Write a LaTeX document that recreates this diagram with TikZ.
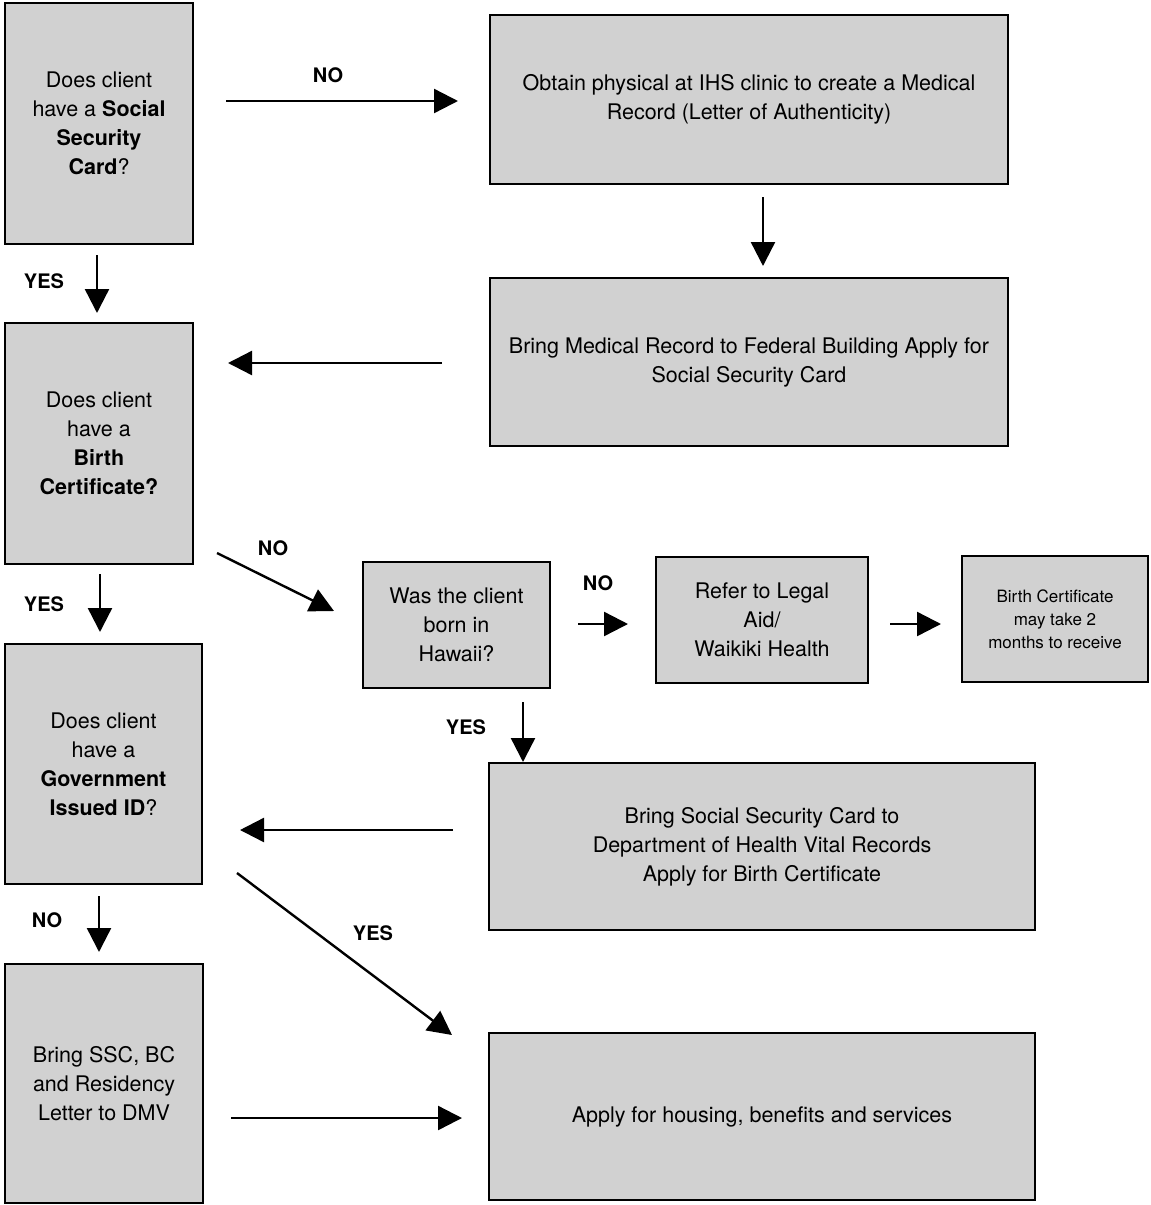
\documentclass[tikz,border=0pt]{standalone}
\usepackage{fontspec}
\setmainfont{TeX Gyre Heros}
\usetikzlibrary{arrows.meta}
\begin{document}
\begin{tikzpicture}[x=1pt,y=-1pt,
  box/.style={draw=black, line width=1.6pt, fill=black!18, inner sep=0pt,
    align=center, font=\fontsize{21.5}{29}\selectfont},
  note/.style={box, font=\fontsize{17}{23}\selectfont},
  flow/.style={line width=2.4pt, -{Triangle[length=24pt,width=24pt]}},
  tag/.style={font=\bfseries\fontsize{20}{24}\selectfont}]
\useasboundingbox (0,0) rectangle (1151,1205);

% decision column on the left
\node[box, minimum width=188, minimum height=241] (ssc) at (99,123.5)
  {Does client\\ have a \textbf{Social}\\ \textbf{Security}\\ \textbf{Card}?};
\node[box, minimum width=188, minimum height=241] (bc) at (99,443.5)
  {Does client\\ have a\\ \textbf{Birth}\\ \textbf{Certificate?}};
\node[box, minimum width=197, minimum height=240] (gov) at (103.5,764)
  {Does client\\ have a\\ \textbf{Government}\\ \textbf{Issued ID}?};
\node[box, minimum width=198, minimum height=239] (dmv) at (104,1083.5)
  {Bring SSC, BC\\ and Residency\\ Letter to DMV};

% action boxes on the right
\node[box, minimum width=518, minimum height=169] (phys) at (749,99.5)
  {Obtain physical at IHS clinic to create a Medical\\ Record (Letter of Authenticity)};
\node[box, minimum width=518, minimum height=168] (medrec) at (749,362)
  {Bring Medical Record to Federal Building Apply for\\ Social Security Card};
\node[box, minimum width=187, minimum height=126] (hawaii) at (456.5,625)
  {Was the client\\ born in\\ Hawaii?};
\node[box, minimum width=212, minimum height=126] (legal) at (762,620)
  {Refer to Legal\\ Aid/\\ Waikiki Health};
\node[note, minimum width=186, minimum height=126] (wait) at (1055,619)
  {Birth Certificate\\ may take 2\\ months to receive};
\node[box, minimum width=546, minimum height=167] (vital) at (762,846.5)
  {Bring Social Security Card to\\ Department of Health Vital Records\\ Apply for Birth Certificate};
\node[box, minimum width=546, minimum height=167] (apply) at (762,1116.5)
  {Apply for housing, benefits and services};

% connector end points
\coordinate (a1s) at (226,101);  \coordinate (a1e) at (458,101);
\coordinate (a2s) at (97,255);   \coordinate (a2e) at (97,313);
\coordinate (a3s) at (763,197);  \coordinate (a3e) at (763,266);
\coordinate (a4s) at (442,363);  \coordinate (a4e) at (228,363);
\coordinate (a5s) at (100,574);  \coordinate (a5e) at (100,632);
\coordinate (a6s) at (217,553);  \coordinate (a6e) at (334,611);
\coordinate (a7s) at (578,624);  \coordinate (a7e) at (628,624);
\coordinate (a8s) at (890,624);  \coordinate (a8e) at (941,624);
\coordinate (a9s) at (523,702);  \coordinate (a9e) at (523,762);
\coordinate (a10s) at (453,830); \coordinate (a10e) at (240,830);
\coordinate (a11s) at (99,896);  \coordinate (a11e) at (99,952);
\coordinate (a12s) at (237,873); \coordinate (a12e) at (452,1035);
\coordinate (a13s) at (231,1118); \coordinate (a13e) at (462,1118);

\draw[flow] (a1s) -- (a1e);
\draw[flow] (a2s) -- (a2e);
\draw[flow] (a3s) -- (a3e);
\draw[flow] (a4s) -- (a4e);
\draw[flow] (a5s) -- (a5e);
\draw[flow] (a6s) -- (a6e);
\draw[flow] (a7s) -- (a7e);
\draw[flow] (a8s) -- (a8e);
\draw[flow] (a9s) -- (a9e);
\draw[flow] (a10s) -- (a10e);
\draw[flow] (a11s) -- (a11e);
\draw[flow] (a12s) -- (a12e);
\draw[flow] (a13s) -- (a13e);

% branch labels
\node[tag] (t1) at (328,75) {NO};
\node[tag] (t2) at (44,281) {YES};
\node[tag] (t3) at (44,604) {YES};
\node[tag] (t4) at (273,548) {NO};
\node[tag] (t5) at (598,583) {NO};
\node[tag] (t6) at (466,727) {YES};
\node[tag] (t7) at (47,920) {NO};
\node[tag] (t8) at (373,933) {YES};
\end{tikzpicture}
\end{document}
